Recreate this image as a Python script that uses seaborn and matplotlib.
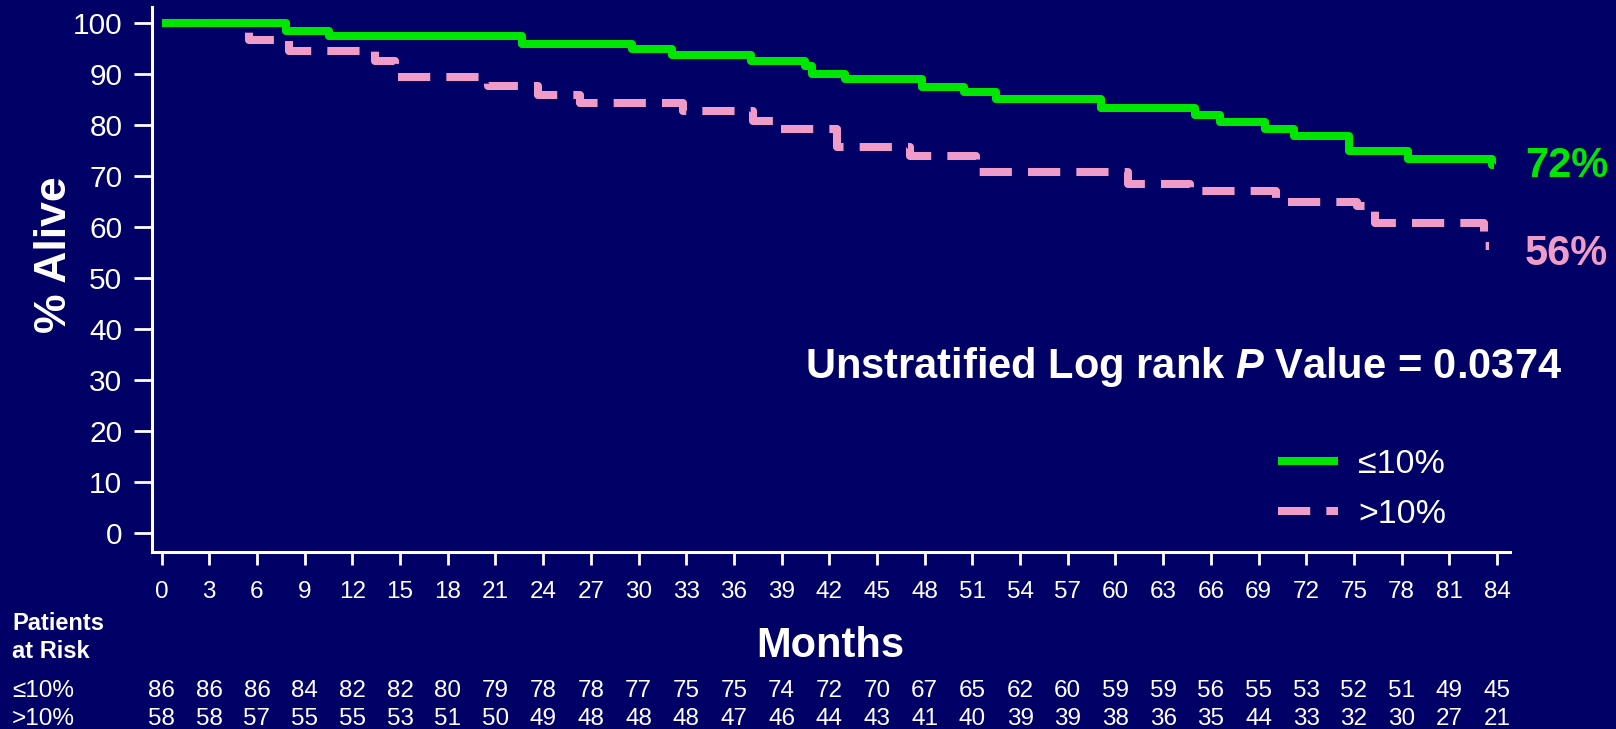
import matplotlib
matplotlib.use("Agg")
import matplotlib.pyplot as plt
import matplotlib.transforms as mtrans
import seaborn as sns
import pandas as pd

# ---------------- data ----------------
months_low = [0, 7.8, 10.5, 22.7, 29.6, 32.1, 37.1, 40.5, 40.9, 43.0, 47.8, 50.5,
              52.5, 59.1, 65.0, 66.6, 69.4, 71.2, 74.7, 78.4, 83.7, 83.8]
surv_low = [100, 98.4, 97.5, 95.9, 94.9, 93.75, 92.6, 91.5, 90.0, 89.1, 87.4, 86.5,
            85.1, 83.3, 82.0, 80.7, 79.3, 77.8, 75.0, 73.4, 72.1, 72.1]

months_high = [0, 5.5, 8.0, 13.4, 14.7, 20.5, 23.7, 26.3, 32.8, 37.2, 38.7, 42.5,
               47.1, 51.2, 60.8, 64.7, 70.1, 75.2, 76.3, 83.2, 83.5]
surv_high = [100, 96.7, 94.5, 92.6, 89.5, 87.6, 85.9, 84.3, 82.8, 80.8, 79.2, 75.7,
             74.0, 70.8, 68.4, 67.0, 64.9, 64.2, 60.7, 56.3, 56.3]

risk_months = list(range(0, 85, 3))
risk_low = [86, 86, 86, 84, 82, 82, 80, 79, 78, 78, 77, 75, 75, 74, 72, 70, 67, 65,
            62, 60, 59, 59, 56, 55, 53, 52, 51, 49, 45]
risk_high = [58, 58, 57, 55, 55, 53, 51, 50, 49, 48, 48, 48, 47, 46, 44, 43, 41, 40,
             39, 39, 38, 36, 35, 44, 33, 32, 30, 27, 21]

label_low = "\u226410%"
label_high = ">10%"
end_labels = ["72%", "56%"]
pvalue_text = "Unstratified Log rank $\\mathit{P}$ Value = 0.0374"
y_ticks = list(range(0, 101, 10))

# ---------------- style ----------------
BG = "#000066"
GREEN = "#00E600"
PINK = "#F09CC8"
sns.set_style("white", {"axes.facecolor": BG, "figure.facecolor": BG})
plt.rcParams["font.family"] = ["Liberation Sans", "DejaVu Sans"]
plt.rcParams["mathtext.fontset"] = "custom"
plt.rcParams["mathtext.it"] = "Liberation Sans:italic:bold"
plt.rcParams["mathtext.rm"] = "Liberation Sans:bold"

fig = plt.figure(figsize=(16.16, 7.29), dpi=100, facecolor=BG)
W, H = 1616, 729
ax = fig.add_axes([151.5 / W, (H - 552) / H, (1509.6 - 151.5) / W, (552 - 7.3) / H])
ax.set_facecolor(BG)

df_low = pd.DataFrame({"Months": months_low, "Alive": surv_low})
df_high = pd.DataFrame({"Months": months_high, "Alive": surv_high})

lw = 5.8
sns.lineplot(data=df_high, x="Months", y="Alive", ax=ax, estimator=None, sort=False,
             drawstyle="steps-post", color=PINK, linewidth=lw,
             linestyle=(0, (4, 2)), dash_capstyle="butt", label=label_high, zorder=2)
sns.lineplot(data=df_low, x="Months", y="Alive", ax=ax, estimator=None, sort=False,
             drawstyle="steps-post", color=GREEN, linewidth=lw,
             solid_joinstyle="round", solid_capstyle="butt", label=label_low, zorder=3)

ax.set_xlim(-0.635, 84.79)
ax.set_ylim(-3.73, 103.1)
ax.set_xticks(risk_months)
ax.set_yticks(y_ticks)
ax.set_xlabel("")
ax.set_ylabel("")

for side in ["top", "right"]:
    ax.spines[side].set_visible(False)
for side in ["left", "bottom"]:
    ax.spines[side].set_color("white")
    ax.spines[side].set_linewidth(2.2)

ax.tick_params(axis="y", colors="white", labelcolor="white", labelsize=21.5,
               length=13, width=2, pad=8, direction="out", left=True)
ax.tick_params(axis="x", colors="white", labelcolor="white", labelsize=17.5,
               length=9.5, width=2, pad=11.5, direction="out", bottom=True)

# legend
handles, labels = ax.get_legend_handles_labels()
order = [labels.index(label_low), labels.index(label_high)]
leg = ax.legend([handles[i] for i in order], [labels[i] for i in order],
                loc="upper left", bbox_to_anchor=(1278 / W, 1 - 449 / H),
                bbox_transform=fig.transFigure, frameon=False, fontsize=24.5,
                handlelength=1.76, handletextpad=0.6, labelspacing=0.57,
                borderpad=0, borderaxespad=0)
for t in leg.get_texts():
    t.set_color("white")

# end labels
ax.text(85.75, 69.8, end_labels[0], color=GREEN, fontsize=30, fontweight="bold",
        ha="left", va="baseline", clip_on=False)
ax.text(85.75, 52.6, end_labels[1], color=PINK, fontsize=30, fontweight="bold",
        ha="left", va="baseline", clip_on=False)

# p-value
ax.text(64.27, 30.4, pvalue_text, color="white", fontsize=30, fontweight="bold",
        ha="center", va="baseline")

# axis titles
fig.text(54 / W, 1 - 255 / H, "% Alive", rotation=90, color="white", fontsize=32,
         fontweight="bold", ha="center", va="center")
fig.text(830 / W, 1 - 657 / H, "Months", color="white", fontsize=30,
         fontweight="bold", ha="center", va="baseline")

# patients at risk
fig.text(12 / W, 1 - 630 / H, "Patients", color="white", fontsize=17,
         fontweight="bold", ha="left", va="baseline")
fig.text(12 / W, 1 - 658 / H, "at Risk", color="white", fontsize=17,
         fontweight="bold", ha="left", va="baseline")
fig.text(12 / W, 1 - 697 / H, label_low, color="white", fontsize=17.5,
         ha="left", va="baseline")
fig.text(12 / W, 1 - 725 / H, label_high, color="white", fontsize=17.5,
         ha="left", va="baseline")

tr = mtrans.blended_transform_factory(ax.transData, fig.transFigure)
for m, a, b in zip(risk_months, risk_low, risk_high):
    ax.text(m, 1 - 697 / H, str(a), transform=tr, color="white", fontsize=17.5,
            ha="center", va="baseline", clip_on=False)
    ax.text(m, 1 - 725 / H, str(b), transform=tr, color="white", fontsize=17.5,
            ha="center", va="baseline", clip_on=False)

fig.savefig("out.png", dpi=100, facecolor=BG)
